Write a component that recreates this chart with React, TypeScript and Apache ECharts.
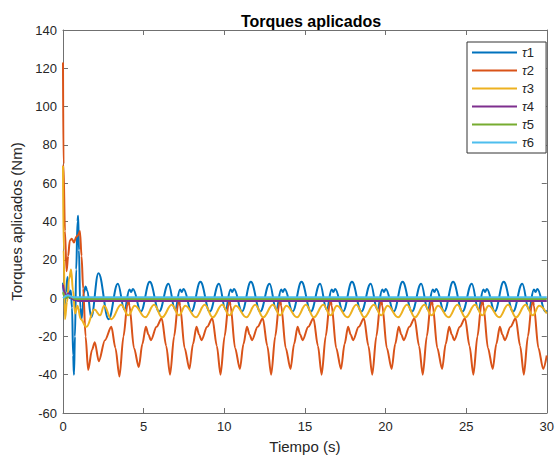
import React, { useEffect, useRef } from "react";
import * as echarts from "echarts";

// x tick values and y tick values
const xTicks = [0, 5, 10, 15, 20, 25, 30];
const yTicks = [-60, -40, -20, 0, 20, 40, 60, 80, 100, 120, 140];
const seriesNames = ["τ1", "τ2", "τ3", "τ4", "τ5", "τ6"];
const seriesColors = ["#0072BD", "#D95319", "#EDB120", "#7E2F8E", "#77AC30", "#4DBEEE"];

// τ1 (time s, torque Nm)
const tau1: [number, number][] = [
  [0, 8], [0.05, 2], [0.1, -4], [0.18, 3], [0.28, 11], [0.38, 0], [0.48, 4], [0.56, -5],
  [0.63, -30], [0.68, -40], [0.74, -20], [0.82, 15], [0.9, 40], [0.94, 43], [0.99, 25],
  [1.07, -5], [1.15, -11], [1.3, 3], [1.4, 6], [1.5, 4], [1.75, -10], [2.2, 13], [2.83, -11], [3.4, 7.5],
  [3.81, -6], [4.12, 4.5], [4.22, 3.2], [4.34, 4.8], [4.83, -7], [5.38, 8.5], [5.96, -7], [6.54, 7.5],
  [6.95, -6], [7.26, 4.5], [7.36, 3.2], [7.48, 4.8], [7.97, -7], [8.52, 8.5], [9.1, -7], [9.67, 7.5],
  [10.08, -6], [10.39, 4.5], [10.49, 3.2], [10.61, 4.8], [11.1, -7], [11.65, 8.5], [12.23, -7], [12.81, 7.5],
  [13.22, -6], [13.53, 4.5], [13.63, 3.2], [13.75, 4.8], [14.24, -7], [14.79, 8.5], [15.37, -7], [15.94, 7.5],
  [16.35, -6], [16.66, 4.5], [16.76, 3.2], [16.88, 4.8], [17.37, -7], [17.92, 8.5], [18.5, -7], [19.08, 7.5],
  [19.49, -6], [19.8, 4.5], [19.9, 3.2], [20.02, 4.8], [20.51, -7], [21.06, 8.5], [21.64, -7], [22.21, 7.5],
  [22.62, -6], [22.93, 4.5], [23.03, 3.2], [23.15, 4.8], [23.64, -7], [24.19, 8.5], [24.77, -7], [25.35, 7.5],
  [25.76, -6], [26.07, 4.5], [26.17, 3.2], [26.29, 4.8], [26.78, -7], [27.33, 8.5], [27.91, -7], [28.48, 7.5],
  [28.89, -6], [29.2, 4.5], [29.3, 3.2], [29.42, 4.8], [29.91, -7], [30, -6.5],
];

// τ2
const tau2: [number, number][] = [
  [0, 123], [0.03, 70], [0.12, 35], [0.22, 14], [0.32, 22], [0.42, 30], [0.55, 31], [0.68, 29],
  [0.82, 32], [0.95, 33], [1.05, 35], [1.15, 22], [1.25, 5], [1.4, -20], [1.56, -37.5], [1.8, -27],
  [1.97, -23], [2.22, -33], [2.6, -22], [3.0, -15], [3.25, -26],
  [3.5, -41], [3.75, -20], [4.0, -3], [4.06, -1], [4.12, -4], [4.4, -26], [4.7, -36], [4.92, -24], [5.14, -15], [5.3, -19], [5.45, -22], [5.8, -15], [6.12, -10.5], [6.4, -25],
  [6.64, -40], [6.89, -20], [7.14, -3], [7.2, -1], [7.26, -4], [7.54, -26], [7.84, -37], [8.06, -24], [8.28, -15], [8.44, -19], [8.59, -22], [8.94, -15], [9.26, -10.5], [9.54, -25],
  [9.77, -40], [10.02, -20], [10.27, -3], [10.33, -1], [10.39, -4], [10.67, -26], [10.97, -37], [11.19, -24], [11.41, -15], [11.57, -19], [11.72, -22], [12.07, -15], [12.39, -10.5], [12.67, -25],
  [12.91, -40], [13.16, -20], [13.41, -3], [13.47, -1], [13.53, -4], [13.81, -26], [14.11, -37], [14.33, -24], [14.55, -15], [14.71, -19], [14.86, -22], [15.21, -15], [15.53, -10.5], [15.81, -25],
  [16.04, -40], [16.29, -20], [16.54, -3], [16.6, -1], [16.66, -4], [16.94, -26], [17.24, -37], [17.46, -24], [17.68, -15], [17.84, -19], [17.99, -22], [18.34, -15], [18.66, -10.5], [18.94, -25],
  [19.18, -40], [19.43, -20], [19.68, -3], [19.74, -1], [19.8, -4], [20.08, -26], [20.38, -37], [20.6, -24], [20.82, -15], [20.98, -19], [21.13, -22], [21.48, -15], [21.8, -10.5], [22.08, -25],
  [22.31, -40], [22.56, -20], [22.81, -3], [22.87, -1], [22.93, -4], [23.21, -26], [23.51, -37], [23.73, -24], [23.95, -15], [24.11, -19], [24.26, -22], [24.61, -15], [24.93, -10.5], [25.21, -25],
  [25.45, -40], [25.7, -20], [25.95, -3], [26.01, -1], [26.07, -4], [26.35, -26], [26.65, -37], [26.87, -24], [27.09, -15], [27.25, -19], [27.4, -22], [27.75, -15], [28.07, -10.5], [28.35, -25],
  [28.58, -40], [28.83, -20], [29.08, -3], [29.14, -1], [29.2, -4], [29.48, -26], [29.78, -37], [30, -30],
];

// τ3
const tau3: [number, number][] = [
  [0, 69], [0.04, 25], [0.12, -11], [0.25, -2], [0.38, 10], [0.5, 15], [0.62, 4], [0.75, -8],
  [0.9, -4], [1.1, -11], [1.45, -15], [1.95, -6], [2.3, -9], [2.55, -4], [3.0, -11], [3.6, -3.5],
  [4.05, -9], [4.45, -4], [5.1, -10], [5.65, -3.5], [6.15, -10], [6.74, -3.5],
  [7.19, -9], [7.59, -4], [8.24, -10], [8.79, -3.5], [9.29, -10], [9.87, -3.5],
  [10.32, -9], [10.72, -4], [11.37, -10], [11.92, -3.5], [12.42, -10], [13.01, -3.5],
  [13.46, -9], [13.86, -4], [14.51, -10], [15.06, -3.5], [15.56, -10], [16.14, -3.5],
  [16.59, -9], [16.99, -4], [17.64, -10], [18.19, -3.5], [18.69, -10], [19.28, -3.5],
  [19.73, -9], [20.13, -4], [20.78, -10], [21.33, -3.5], [21.83, -10], [22.41, -3.5],
  [22.86, -9], [23.26, -4], [23.91, -10], [24.46, -3.5], [24.96, -10], [25.55, -3.5],
  [26.0, -9], [26.4, -4], [27.05, -10], [27.6, -3.5], [28.1, -10], [28.68, -3.5],
  [29.13, -9], [29.53, -4], [30, -8],
];

// τ4
const tau4: [number, number][] = [
  [0, 7], [0.1, 3], [0.2, 1], [0.35, 2.5], [0.5, 0], [0.7, -1], [1.0, -1.5], [30, -1.5],
];

// τ5
const tau5: [number, number][] = [
  [0, 3], [0.15, 0], [0.4, 1], [0.8, -0.5], [30, -0.5],
];

// τ6
const tau6: [number, number][] = [
  [0, 0], [0.3, 1.5], [0.6, 0.5], [30, 0.5],
];

const allData = [tau1, tau2, tau3, tau4, tau5, tau6];

const FONT = "'Liberation Sans', Arial, sans-serif";
const AXIS_COLOR = "#707070";
const TEXT_COLOR = "#262626";

export default function App() {
  const ref = useRef<HTMLDivElement>(null);

  useEffect(() => {
    if (!ref.current) return;
    const chart = echarts.init(ref.current, undefined, { renderer: "svg" });
    const xMin = xTicks[0];
    const xMax = xTicks[xTicks.length - 1];
    const xInt = xTicks[1] - xTicks[0];
    const yMin = yTicks[0];
    const yMax = yTicks[yTicks.length - 1];
    const yInt = yTicks[1] - yTicks[0];

    const tickCommon = {
      show: true,
      inside: true,
      length: 5,
      lineStyle: { color: AXIS_COLOR, width: 1 },
    };

    chart.setOption({
      animation: false,
      backgroundColor: "#fff",
      title: {
        text: "Torques aplicados",
        left: 306,
        top: 8,
        textAlign: "center",
        textStyle: { fontFamily: FONT, fontSize: 16, fontWeight: "bold", color: "#000" },
      },
      grid: { left: 63, right: 7, top: 30, bottom: 49, containLabel: false },
      legend: {
        orient: "vertical",
        left: 467,
        top: 42,
        padding: [4, 12, 4, 4],
        itemGap: 5,
        itemWidth: 45,
        itemHeight: 14,
        borderColor: "#333",
        borderWidth: 1,
        backgroundColor: "#fff",
        data: seriesNames,
        itemStyle: { opacity: 0 },
        lineStyle: { width: 2 },
        formatter: (name: string) => `{t|τ}{n|${name.slice(1)}}`,
        textStyle: {
          fontFamily: FONT,
          fontSize: 13,
          color: TEXT_COLOR,
          rich: {
            t: { fontFamily: FONT, fontSize: 13, fontStyle: "italic", color: TEXT_COLOR },
            n: { fontFamily: FONT, fontSize: 13, color: TEXT_COLOR },
          },
        },
      },
      xAxis: [
        {
          type: "value",
          min: xMin,
          max: xMax,
          interval: xInt,
          position: "bottom",
          name: "Tiempo (s)",
          nameLocation: "middle",
          nameGap: 26,
          nameTextStyle: { fontFamily: FONT, fontSize: 15, color: TEXT_COLOR },
          axisLine: { show: true, onZero: false, lineStyle: { color: AXIS_COLOR, width: 1 } },
          axisTick: tickCommon,
          axisLabel: { fontFamily: FONT, fontSize: 13, color: TEXT_COLOR, margin: 7 },
          splitLine: { show: false },
        },
        {
          type: "value",
          min: xMin,
          max: xMax,
          interval: xInt,
          position: "top",
          axisLine: { show: true, onZero: false, lineStyle: { color: AXIS_COLOR, width: 1 } },
          axisTick: tickCommon,
          axisLabel: { show: false },
          splitLine: { show: false },
        },
      ],
      yAxis: [
        {
          type: "value",
          min: yMin,
          max: yMax,
          interval: yInt,
          position: "left",
          name: "Torques aplicados (Nm)",
          nameLocation: "middle",
          nameGap: 35,
          nameRotate: 90,
          nameTextStyle: { fontFamily: FONT, fontSize: 15, color: TEXT_COLOR },
          axisLine: { show: true, onZero: false, lineStyle: { color: AXIS_COLOR, width: 1 } },
          axisTick: tickCommon,
          axisLabel: { fontFamily: FONT, fontSize: 13, color: TEXT_COLOR, margin: 6 },
          splitLine: { show: false },
        },
        {
          type: "value",
          min: yMin,
          max: yMax,
          interval: yInt,
          position: "right",
          axisLine: { show: true, onZero: false, lineStyle: { color: AXIS_COLOR, width: 1 } },
          axisTick: tickCommon,
          axisLabel: { show: false },
          splitLine: { show: false },
        },
      ],
      series: seriesNames.map((name, i) => ({
        name,
        type: "line",
        xAxisIndex: 0,
        yAxisIndex: 0,
        data: allData[i],
        symbol: "none",
        showSymbol: false,
        smooth: i === 1 ? 0.3 : 0.4,
        smoothMonotone: "x",
        color: seriesColors[i],
        lineStyle: { color: seriesColors[i], width: 2 },
        z: 2 + i,
      })),
    });
    return () => chart.dispose();
  }, []);

  return (
    <div
      ref={ref}
      style={{ position: "fixed", left: 0, top: 0, width: 557, height: 462, background: "#fff" }}
    />
  );
}
